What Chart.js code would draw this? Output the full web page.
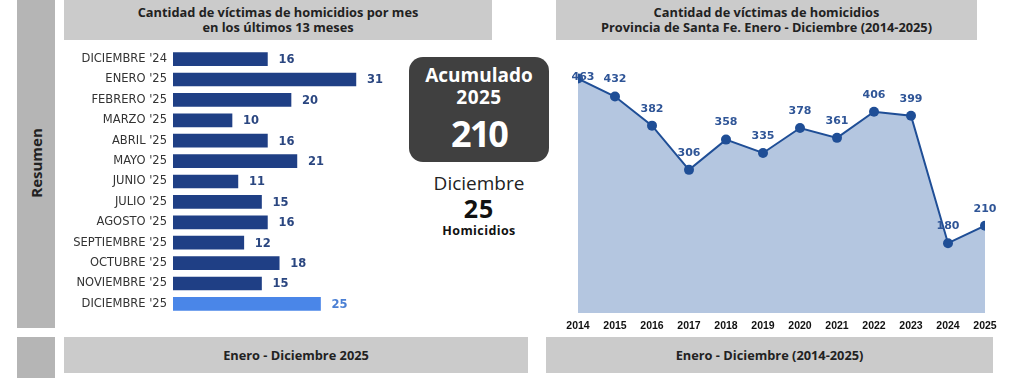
<!DOCTYPE html>
<html><head><meta charset="utf-8">
<script src="https://cdn.jsdelivr.net/npm/chart.js@4"></script>
<style>
html,body{margin:0;padding:0;background:#fff;width:1024px;height:378px;overflow:hidden;font-family:"Open Sans",sans-serif;}
.abs{position:absolute;}
.side{background:#b5b5b5;}
.gray{background:#cbcbcb;}
.hdr{display:flex;align-items:center;justify-content:center;text-align:center;font-weight:700;font-size:12.8px;line-height:15px;color:#222;}
</style></head><body>
<div class="abs side" style="left:17px;top:0;width:38px;height:328px;"></div>
<div class="abs side" style="left:17px;top:337px;width:38px;height:41px;"></div>
<div class="abs" style="left:36px;top:163px;transform:translate(-50%,-50%) rotate(-90deg);font-weight:700;font-size:15px;color:#222;white-space:nowrap;">Resumen</div>

<div class="abs gray hdr" style="left:64px;top:0;width:428px;height:40px;">Cantidad de víctimas de homicidios por mes<br>en los últimos 13 meses</div>
<div class="abs gray hdr" style="left:556px;top:0;width:421px;height:40px;">Cantidad de víctimas de homicidios<br>Provincia de Santa Fe. Enero - Diciembre (2014-2025)</div>
<div class="abs gray hdr" style="left:64px;top:337px;width:464px;height:36px;">Enero - Diciembre 2025</div>
<div class="abs gray hdr" style="left:546px;top:337px;width:447px;height:36px;">Enero - Diciembre (2014-2025)</div>

<div class="abs" style="left:409px;top:57px;width:140px;height:105px;background:#404040;border-radius:14px;color:#fff;text-align:center;font-weight:700;">
  <div style="position:absolute;left:0;right:0;top:6px;font-size:19px;line-height:24px;">Acumulado</div>
  <div style="position:absolute;left:0;right:0;top:28px;font-size:19px;line-height:24px;letter-spacing:0.5px;">2025</div>
  <div id="acc" style="position:absolute;left:0;right:0;top:56px;font-size:36px;line-height:42px;letter-spacing:-2px;"></div>
</div>
<div class="abs" style="left:399px;top:172px;width:160px;text-align:center;color:#222;">
  <div style="font-size:19px;line-height:23px;">Diciembre</div>
  <div id="dec" style="font-size:25px;line-height:27px;font-weight:700;color:#111;letter-spacing:1px;"></div>
  <div style="font-size:12.5px;line-height:18px;font-weight:700;color:#111;letter-spacing:0.4px;">Homicidios</div>
</div>

<div class="abs" style="left:64px;top:36px;width:345px;height:291px;"><canvas id="bar"></canvas></div>
<div class="abs" style="left:556px;top:0;width:450px;height:340px;"><canvas id="line"></canvas></div>

<script>
const months = ["DICIEMBRE '24","ENERO '25","FEBRERO '25","MARZO '25","ABRIL '25","MAYO '25","JUNIO '25","JULIO '25","AGOSTO '25","SEPTIEMBRE '25","OCTUBRE '25","NOVIEMBRE '25","DICIEMBRE '25"];
const monthValues = [16,31,20,10,16,21,11,15,16,12,18,15,25];
const years = ["2014","2015","2016","2017","2018","2019","2020","2021","2022","2023","2024","2025"];
const yearValues = [463,432,382,306,358,335,378,361,406,399,180,210];
const accumulated = 210;
const currentMonth = 25;

document.getElementById('acc').textContent = accumulated;
document.getElementById('dec').textContent = currentMonth;

const dark = '#1f3f85', light = '#4a86e8';
const barColors = monthValues.map((v,i)=> i===monthValues.length-1 ? light : dark);
const labelColors = monthValues.map((v,i)=> i===monthValues.length-1 ? '#4a7fd4' : '#2a4680');

const barLabels = {
  id:'barLabels',
  afterDatasetsDraw(chart){
    const ctx = chart.ctx; const meta = chart.getDatasetMeta(0);
    ctx.save();
    ctx.font = 'bold 11.5px "DejaVu Sans"';
    ctx.textBaseline = 'middle'; ctx.textAlign = 'left';
    meta.data.forEach((el,i)=>{
      ctx.fillStyle = labelColors[i];
      ctx.fillText(String(monthValues[i]), el.x + 11, el.y + 1);
    });
    ctx.restore();
  }
};

new Chart(document.getElementById('bar'), {
  type:'bar',
  data:{labels:months, datasets:[{data:monthValues, backgroundColor:barColors, barThickness:13, borderWidth:0}]},
  options:{
    indexAxis:'y', responsive:true, maintainAspectRatio:false, animation:false,
    layout:{padding:0},
    plugins:{legend:{display:false}, tooltip:{enabled:false}},
    scales:{
      x:{display:false, min:0, max:40},
      y:{grid:{display:false, drawTicks:false}, border:{display:false},
         ticks:{color:'#333', font:{family:'DejaVu Sans', size:11.5}, padding:6, autoSkip:false},
         afterFit(s){ s.width = 109; }}
    }
  },
  plugins:[barLabels]
});

const lineLabels = {
  id:'lineLabels',
  afterDatasetsDraw(chart){
    const ctx = chart.ctx; const meta = chart.getDatasetMeta(0);
    ctx.save();
    ctx.font = 'bold 11px "DejaVu Sans"';
    ctx.textBaseline = 'middle'; ctx.textAlign = 'center';
    ctx.fillStyle = '#2f5597';
    meta.data.forEach((el,i)=>{
      let x = el.x, y = el.y - 17;
      if (i === 0) { x += 5; y = el.y - 1; }
      ctx.fillText(String(yearValues[i]), x, y);
    });
    ctx.restore();
  }
};

new Chart(document.getElementById('line'), {
  type:'line',
  data:{labels:years, datasets:[{data:yearValues, borderColor:'#1f4e96', borderWidth:2,
    backgroundColor:'#b4c6e0', fill:'start', pointRadius:5, pointBackgroundColor:'#1f4e96',
    pointBorderWidth:0, tension:0, clip:0}]},
  options:{
    responsive:true, maintainAspectRatio:false, animation:false,
    layout:{padding:{left:22, right:21, top:57, bottom:0}},
    plugins:{legend:{display:false}, tooltip:{enabled:false}},
    scales:{
      x:{offset:false, grid:{display:false, drawTicks:false}, border:{display:false},
         ticks:{color:'#111', font:{family:'Liberation Sans', size:10.5, weight:'bold'}, padding:7, autoSkip:false, maxRotation:0},
         afterFit(s){ s.height = 27; }},
      y:{display:false, min:60, max:500}
    }
  },
  plugins:[lineLabels]
});
</script>
</body></html>
